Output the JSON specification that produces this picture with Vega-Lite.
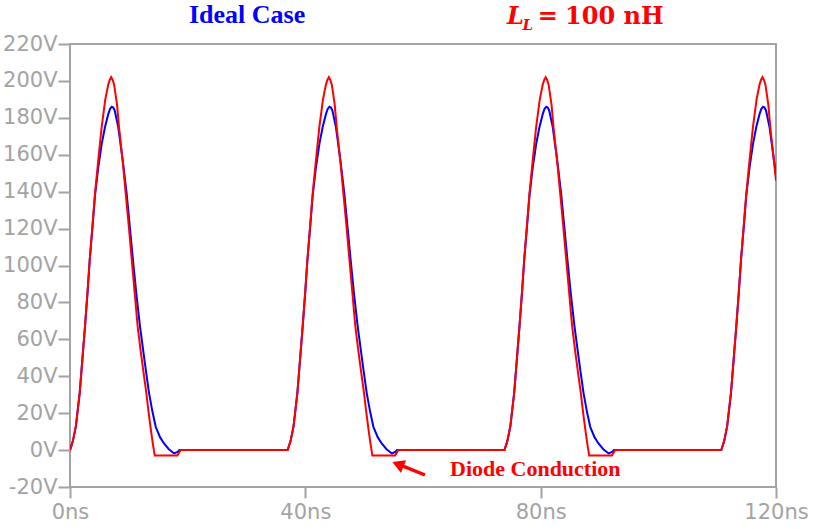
{
  "$schema": "https://vega.github.io/schema/vega-lite/v6.json",
  "width": 706,
  "height": 443,
  "autosize": "none",
  "padding": {"left": 70, "top": 44, "right": 37, "bottom": 42},
  "background": "white",
  "config": {
    "view": {"stroke": "#a3a3a3", "strokeWidth": 2},
    "axis": {
      "domain": false,
      "grid": false,
      "title": null,
      "labelFont": "DejaVu Sans",
      "labelFontSize": 21,
      "labelColor": "#a3a3a3",
      "tickColor": "#a3a3a3",
      "tickWidth": 2,
      "labelFlush": false,
      "labelOverlap": false,
      "labelBound": false
    },
    "axisY": {"labelOverlap": false}
  },
  "datasets": {
    "ideal": [
      {"t": 0, "v": 0}, {"t": 0.5, "v": 5}, {"t": 1.0, "v": 13}, {"t": 1.65, "v": 31}, {"t": 2.1, "v": 49},
      {"t": 2.55, "v": 67}, {"t": 3.0, "v": 86}, {"t": 3.35, "v": 103}, {"t": 3.8, "v": 120}, {"t": 4.25, "v": 138},
      {"t": 4.8, "v": 153}, {"t": 5.4, "v": 166}, {"t": 5.95, "v": 175}, {"t": 6.5, "v": 182}, {"t": 6.8, "v": 184.8}, {"t": 7.1, "v": 186},
      {"t": 7.35, "v": 185.6}, {"t": 7.6, "v": 184}, {"t": 8.2, "v": 175}, {"t": 9.0, "v": 156}, {"t": 9.63, "v": 139}, {"t": 10.2, "v": 120},
      {"t": 10.7, "v": 103}, {"t": 11.3, "v": 84}, {"t": 11.9, "v": 67}, {"t": 12.4, "v": 55}, {"t": 12.9, "v": 43},
      {"t": 13.43, "v": 31}, {"t": 14.0, "v": 21}, {"t": 14.57, "v": 12.6}, {"t": 15.3, "v": 7}, {"t": 15.98, "v": 3.6},
      {"t": 16.8, "v": 0.5}, {"t": 17.7, "v": -1.8}, {"t": 18.3, "v": -1}, {"t": 18.6, "v": 0},

      {"t": 37.0, "v": 0}, {"t": 37.5, "v": 5}, {"t": 38.0, "v": 13}, {"t": 38.65, "v": 31}, {"t": 39.1, "v": 49},
      {"t": 39.55, "v": 67}, {"t": 40.0, "v": 86}, {"t": 40.35, "v": 103}, {"t": 40.8, "v": 120}, {"t": 41.25, "v": 138},
      {"t": 41.8, "v": 153}, {"t": 42.4, "v": 166}, {"t": 42.95, "v": 175}, {"t": 43.5, "v": 182}, {"t": 43.8, "v": 184.8}, {"t": 44.1, "v": 186},
      {"t": 44.35, "v": 185.6}, {"t": 44.6, "v": 184}, {"t": 45.2, "v": 175}, {"t": 46.0, "v": 156}, {"t": 46.63, "v": 139}, {"t": 47.2, "v": 120},
      {"t": 47.7, "v": 103}, {"t": 48.3, "v": 84}, {"t": 48.9, "v": 67}, {"t": 49.4, "v": 55}, {"t": 49.9, "v": 43},
      {"t": 50.43, "v": 31}, {"t": 51.0, "v": 21}, {"t": 51.57, "v": 12.6}, {"t": 52.3, "v": 7}, {"t": 52.98, "v": 3.6},
      {"t": 53.8, "v": 0.5}, {"t": 54.7, "v": -1.8}, {"t": 55.3, "v": -1}, {"t": 55.6, "v": 0},

      {"t": 73.85, "v": 0}, {"t": 74.35, "v": 5}, {"t": 74.85, "v": 13}, {"t": 75.5, "v": 31}, {"t": 75.95, "v": 49},
      {"t": 76.4, "v": 67}, {"t": 76.85, "v": 86}, {"t": 77.2, "v": 103}, {"t": 77.65, "v": 120}, {"t": 78.1, "v": 138},
      {"t": 78.65, "v": 153}, {"t": 79.25, "v": 166}, {"t": 79.8, "v": 175}, {"t": 80.35, "v": 182}, {"t": 80.65, "v": 184.8}, {"t": 80.95, "v": 186},
      {"t": 81.2, "v": 185.6}, {"t": 81.45, "v": 184}, {"t": 82.05, "v": 175}, {"t": 82.85, "v": 156}, {"t": 83.48, "v": 139}, {"t": 84.05, "v": 120},
      {"t": 84.55, "v": 103}, {"t": 85.15, "v": 84}, {"t": 85.75, "v": 67}, {"t": 86.25, "v": 55}, {"t": 86.75, "v": 43},
      {"t": 87.28, "v": 31}, {"t": 87.85, "v": 21}, {"t": 88.42, "v": 12.6}, {"t": 89.15, "v": 7}, {"t": 89.83, "v": 3.6},
      {"t": 90.65, "v": 0.5}, {"t": 91.55, "v": -1.8}, {"t": 92.15, "v": -1}, {"t": 92.45, "v": 0},

      {"t": 110.7, "v": 0}, {"t": 111.2, "v": 5}, {"t": 111.7, "v": 13}, {"t": 112.35, "v": 31}, {"t": 112.8, "v": 49},
      {"t": 113.25, "v": 67}, {"t": 113.7, "v": 86}, {"t": 114.05, "v": 103}, {"t": 114.5, "v": 120}, {"t": 114.95, "v": 138},
      {"t": 115.5, "v": 153}, {"t": 116.1, "v": 166}, {"t": 116.65, "v": 175}, {"t": 117.2, "v": 182}, {"t": 117.5, "v": 184.8}, {"t": 117.8, "v": 186},
      {"t": 118.05, "v": 185.6}, {"t": 118.3, "v": 184}, {"t": 118.9, "v": 175}, {"t": 119.7, "v": 156}, {"t": 120.0, "v": 149}
    ],
    "inductive": [
      {"t": 0, "v": 0}, {"t": 0.5, "v": 5}, {"t": 1.0, "v": 13}, {"t": 1.65, "v": 31}, {"t": 2.1, "v": 49},
      {"t": 2.55, "v": 67}, {"t": 3.0, "v": 87}, {"t": 3.35, "v": 103}, {"t": 3.8, "v": 121}, {"t": 4.25, "v": 139},
      {"t": 4.8, "v": 157}, {"t": 5.38, "v": 175}, {"t": 6.0, "v": 190}, {"t": 6.5, "v": 198}, {"t": 6.75, "v": 200.5}, {"t": 7.0, "v": 202},
      {"t": 7.25, "v": 200.5}, {"t": 7.5, "v": 198}, {"t": 8.0, "v": 187}, {"t": 8.33, "v": 175}, {"t": 9.0, "v": 155}, {"t": 9.47, "v": 139},
      {"t": 10.0, "v": 121}, {"t": 10.5, "v": 103}, {"t": 11.0, "v": 85}, {"t": 11.5, "v": 67}, {"t": 12.0, "v": 54},
      {"t": 12.5, "v": 42}, {"t": 12.97, "v": 31}, {"t": 13.3, "v": 22}, {"t": 13.7, "v": 12}, {"t": 14.1, "v": 3},
      {"t": 14.4, "v": -3}, {"t": 18.25, "v": -3}, {"t": 18.8, "v": 0},

      {"t": 37.0, "v": 0}, {"t": 37.5, "v": 5}, {"t": 38.0, "v": 13}, {"t": 38.65, "v": 31}, {"t": 39.1, "v": 49},
      {"t": 39.55, "v": 67}, {"t": 40.0, "v": 87}, {"t": 40.35, "v": 103}, {"t": 40.8, "v": 121}, {"t": 41.25, "v": 139},
      {"t": 41.8, "v": 157}, {"t": 42.38, "v": 175}, {"t": 43.0, "v": 190}, {"t": 43.5, "v": 198}, {"t": 43.75, "v": 200.5}, {"t": 44.0, "v": 202},
      {"t": 44.25, "v": 200.5}, {"t": 44.5, "v": 198}, {"t": 45.0, "v": 187}, {"t": 45.33, "v": 175}, {"t": 46.0, "v": 155}, {"t": 46.47, "v": 139},
      {"t": 47.0, "v": 121}, {"t": 47.5, "v": 103}, {"t": 48.0, "v": 85}, {"t": 48.5, "v": 67}, {"t": 49.0, "v": 54},
      {"t": 49.5, "v": 42}, {"t": 49.97, "v": 31}, {"t": 50.3, "v": 22}, {"t": 50.7, "v": 12}, {"t": 51.1, "v": 3},
      {"t": 51.4, "v": -3}, {"t": 55.25, "v": -3}, {"t": 55.8, "v": 0},

      {"t": 73.85, "v": 0}, {"t": 74.35, "v": 5}, {"t": 74.85, "v": 13}, {"t": 75.5, "v": 31}, {"t": 75.95, "v": 49},
      {"t": 76.4, "v": 67}, {"t": 76.85, "v": 87}, {"t": 77.2, "v": 103}, {"t": 77.65, "v": 121}, {"t": 78.1, "v": 139},
      {"t": 78.65, "v": 157}, {"t": 79.23, "v": 175}, {"t": 79.85, "v": 190}, {"t": 80.35, "v": 198}, {"t": 80.6, "v": 200.5}, {"t": 80.85, "v": 202},
      {"t": 81.1, "v": 200.5}, {"t": 81.35, "v": 198}, {"t": 81.85, "v": 187}, {"t": 82.18, "v": 175}, {"t": 82.85, "v": 155}, {"t": 83.32, "v": 139},
      {"t": 83.85, "v": 121}, {"t": 84.35, "v": 103}, {"t": 84.85, "v": 85}, {"t": 85.35, "v": 67}, {"t": 85.85, "v": 54},
      {"t": 86.35, "v": 42}, {"t": 86.82, "v": 31}, {"t": 87.15, "v": 22}, {"t": 87.55, "v": 12}, {"t": 87.95, "v": 3},
      {"t": 88.25, "v": -3}, {"t": 92.1, "v": -3}, {"t": 92.65, "v": 0},

      {"t": 110.7, "v": 0}, {"t": 111.2, "v": 5}, {"t": 111.7, "v": 13}, {"t": 112.35, "v": 31}, {"t": 112.8, "v": 49},
      {"t": 113.25, "v": 67}, {"t": 113.7, "v": 87}, {"t": 114.05, "v": 103}, {"t": 114.5, "v": 121}, {"t": 114.95, "v": 139},
      {"t": 115.5, "v": 157}, {"t": 116.08, "v": 175}, {"t": 116.7, "v": 190}, {"t": 117.2, "v": 198}, {"t": 117.45, "v": 200.5}, {"t": 117.7, "v": 202},
      {"t": 117.95, "v": 200.5}, {"t": 118.2, "v": 198}, {"t": 118.7, "v": 187}, {"t": 119.03, "v": 175}, {"t": 119.7, "v": 155}, {"t": 120.0, "v": 146}
    ]
  },
  "encoding": {
    "x": {
      "field": "t", "type": "quantitative",
      "scale": {"domain": [0, 120], "nice": false, "zero": false},
      "axis": {"values": [0, 40, 80, 120], "labelExpr": "datum.value + 'ns'", "tickSize": 11, "labelPadding": 3, "labelOverlap": false, "labelFlush": false}
    },
    "y": {
      "field": "v", "type": "quantitative",
      "scale": {"domain": [-20, 220], "nice": false, "zero": false},
      "axis": {"values": [-20, 0, 20, 40, 60, 80, 100, 120, 140, 160, 180, 200, 220], "tickCount": 13, "labelExpr": "datum.value + 'V'", "tickSize": 12, "labelPadding": 1, "labelOverlap": false}
    }
  },
  "layer": [
    {
      "data": {"name": "ideal"},
      "mark": {"type": "line", "color": "#0000ff", "strokeWidth": 2, "clip": true}
    },
    {
      "data": {"name": "inductive"},
      "mark": {"type": "line", "color": "#ff0000", "strokeWidth": 2, "clip": true}
    },
    {
      "data": {"values": [{"t": 60.34, "v": -13.5, "t2": 56.3, "v2": -8.3}]},
      "mark": {"type": "rule", "color": "#ff0000", "strokeWidth": 3.5},
      "encoding": {
        "x2": {"field": "t2"},
        "y2": {"field": "v2"}
      }
    },
    {
      "data": {"values": [{"t": 55.75, "v": -7.7}]},
      "mark": {"type": "point", "shape": "triangle-up", "angle": 292, "filled": true, "opacity": 1, "size": 190, "color": "#ff0000"}
    },
    {
      "data": {"values": [{"t": 30.1, "v": 231.3, "label": "Ideal Case"}]},
      "mark": {"type": "text", "font": "Liberation Serif", "fontWeight": "bold", "fontSize": 26, "color": "#0000ff", "align": "center", "baseline": "alphabetic"},
      "encoding": {"text": {"field": "label"}}
    },
    {
      "data": {"values": [{"t": 74.28, "v": 230.8, "label": "L"}]},
      "mark": {"type": "text", "font": "DejaVu Serif", "fontWeight": "bold", "fontStyle": "italic", "fontSize": 24, "color": "#ff0000", "align": "left", "baseline": "alphabetic"},
      "encoding": {"text": {"field": "label"}}
    },
    {
      "data": {"values": [{"t": 76.9, "v": 227.6, "label": "L"}]},
      "mark": {"type": "text", "font": "DejaVu Serif", "fontWeight": "bold", "fontStyle": "italic", "fontSize": 15, "color": "#ff0000", "align": "left", "baseline": "alphabetic"},
      "encoding": {"text": {"field": "label"}}
    },
    {
      "data": {"values": [{"t": 79.5, "v": 230.8, "label": "="}, {"t": 84.14, "v": 230.8, "label": "100 nH"}]},
      "mark": {"type": "text", "font": "DejaVu Serif", "fontWeight": "bold", "fontSize": 24, "color": "#ff0000", "align": "left", "baseline": "alphabetic"},
      "encoding": {"text": {"field": "label"}}
    },
    {
      "data": {"values": [{"t": 64.59, "v": -14.1, "label": "Diode Conduction"}]},
      "mark": {"type": "text", "font": "Liberation Serif", "fontWeight": "bold", "fontSize": 22, "color": "#ff0000", "align": "left", "baseline": "alphabetic"},
      "encoding": {"text": {"field": "label"}}
    }
  ]
}
